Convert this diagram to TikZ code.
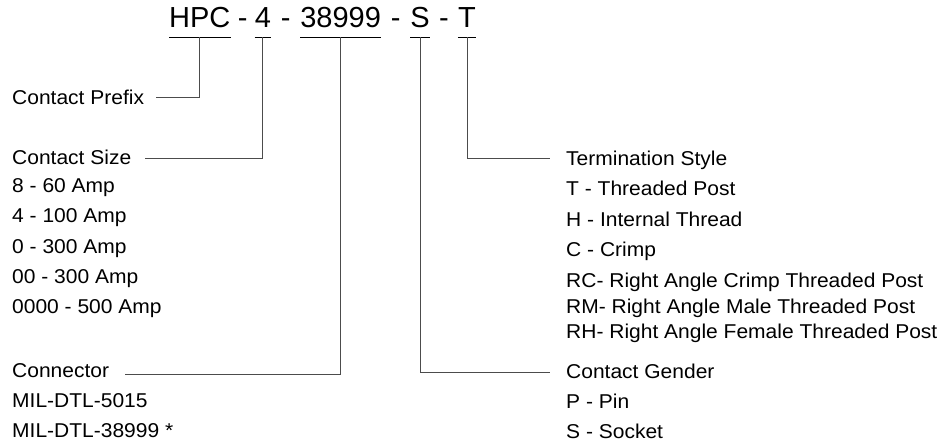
\documentclass[tikz,border=0pt]{standalone}
\usepackage{fontspec}
\setmainfont{Liberation Sans}
\newfontfamily\lblfont[FakeStretch=1.05]{Liberation Sans}
\usetikzlibrary{calc,positioning}

\begin{document}
\begin{tikzpicture}[x=1pt,y=-1pt,
		ttl/.style={anchor=base west,inner sep=0pt,font=\fontsize{29}{32}\selectfont},
		part/.style={ttl,text depth=9pt},
		lbl/.style={anchor=base west,inner sep=0pt,font=\lblfont\fontsize{20}{24}\selectfont},
		lead/.style={draw=black!70,line width=1pt},
		uline/.style={draw=black,line width=1pt}]
		\useasboundingbox (0,0) rectangle (945,446);
		
		% part number
		\node[part]  (hpc)    at (169,28)                      {HPC};
		\node[right=24pt of hpc.base east,part]    (n4)        {4};
		\node[right=29pt of n4.base east,part]     (n38999)    {38999};
		\node[right=29pt of n38999.base east,part] (s)         {S};
		\node[right=28pt of s.base east,part]      (t)         {T};
		\node[ttl,anchor=base] (d1) at ($(hpc.base east)!0.5!(n4.base west)$)   {-};
		\node[ttl,anchor=base] (d2) at ($(n4.base east)!0.5!(n38999.base west)$) {-};
		\node[ttl,anchor=base] (d3) at ($(n38999.base east)!0.5!(s.base west)$)  {-};
		\node[ttl,anchor=base] (d4) at ($(s.base east)!0.5!(t.base west)$)       {-};
		\foreach \p in {hpc,n4,n38999,s,t}
			\draw[uline] (\p.south west) -- (\p.south east);
		
		% left column
		\node[lbl] (pfx) at (12,105)                       {Contact Prefix};
		\node[lbl] (sz)  at (12,165)                       {Contact Size};
		\node[below=28pt of sz.base west,lbl]  (sz1)       {8 - 60 Amp};
		\node[below=30pt of sz1.base west,lbl] (sz2)       {4 - 100 Amp};
		\node[below=31pt of sz2.base west,lbl] (sz3)       {0 - 300 Amp};
		\node[below=30pt of sz3.base west,lbl] (sz4)       {00 - 300 Amp};
		\node[below=30pt of sz4.base west,lbl] (sz5)       {0000 - 500 Amp};
		\node[lbl] (con) at (12,377)                       {Connector};
		\node[below=30pt of con.base west,lbl] (con1)      {MIL-DTL-5015};
		\node[below=30pt of con1.base west,lbl] (con2)     {MIL-DTL-38999 *};
		
		% right column
		\node[lbl] (term) at (566,166)                     {Termination Style};
		\node[below=30pt of term.base west,lbl] (term1)    {T - Threaded Post};
		\node[below=31pt of term1.base west,lbl] (term2)   {H - Internal Thread};
		\node[below=30pt of term2.base west,lbl] (term3)   {C - Crimp};
		\node[below=31pt of term3.base west,lbl] (term4)   {RC- Right Angle Crimp Threaded Post};
		\node[below=25pt of term4.base west,lbl] (term5)   {RM- Right Angle Male Threaded Post};
		\node[below=25pt of term5.base west,lbl] (term6)   {RH- Right Angle Female Threaded Post};
		\node[lbl] (gen) at (566,378)                      {Contact Gender};
		\node[below=30pt of gen.base west,lbl] (gen1)      {P - Pin};
		\node[below=30pt of gen1.base west,lbl] (gen2)     {S - Socket};
		
		% leads
		\draw[lead] (hpc.south)    |- ([xshift=12pt,yshift=7pt]pfx.base east);
		\draw[lead] (n4.south)     |- ([xshift=14pt,yshift=6pt]sz.base east);
		\draw[lead] (n38999.south) |- ([xshift=16pt,yshift=3pt]con.base east);
		\draw[lead] (s.south)      |- ([xshift=-16pt,yshift=6pt]gen.base west);
		\draw[lead] (t.south)      |- ([xshift=-16pt,yshift=7pt]term.base west);
\end{tikzpicture}
\end{document}
